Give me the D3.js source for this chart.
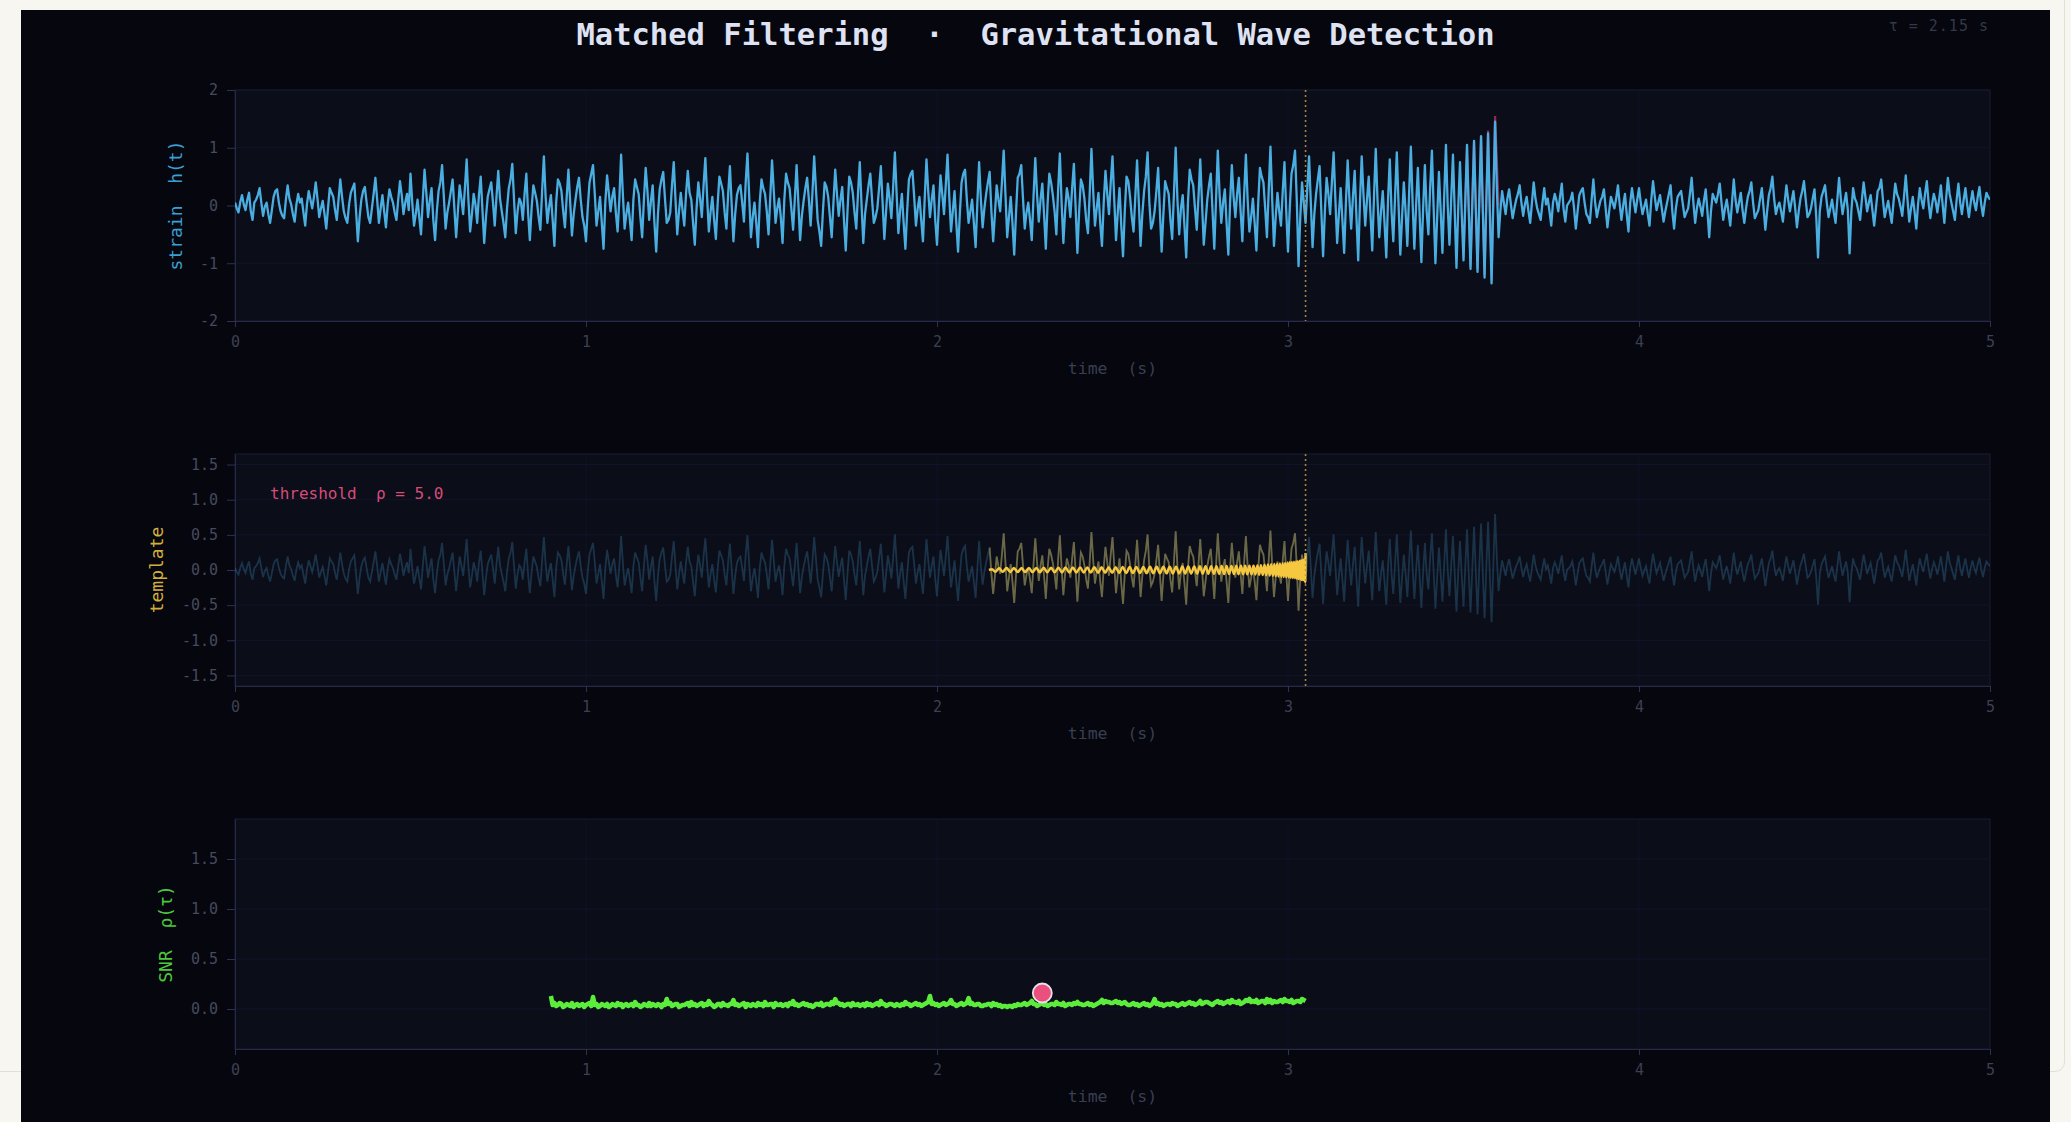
<!DOCTYPE html>
<html><head><meta charset="utf-8">
<script src="https://cdn.jsdelivr.net/npm/d3@7"></script>
<style>
html,body{margin:0;padding:0;background:#f7f6f1;width:2071px;height:1122px;overflow:hidden;}
#card{position:absolute;left:-20px;top:-20px;width:2085px;height:1092px;border:1px solid #e2dfd6;border-radius:10px;box-sizing:border-box;}
#chart{position:absolute;left:0;top:0;}
text{font-family:"DejaVu Sans Mono",monospace;}
</style></head><body>
<div id="card"></div>
<svg id="chart" width="2071" height="1122"></svg>
<script>
// ---------- DATA ----------
const xTicks = [0, 1, 2, 3, 4, 5];
const strainTicks = [-2, -1, 0, 1, 2];
const templateTicks = [-1.5, -1, -0.5, 0, 0.5, 1, 1.5];
const snrTicks = [0, 0.5, 1, 1.5];
const strainDt = 0.005;          // sample spacing of strain (s)
const tau = 2.15;                // template start (s)
const tauEnd = 3.05;             // template end / marker (s)
const thresholdRho = 5.0;
const snrStart = 0.90, snrDt = 0.005;
const snrPeak = [2.30, 0.16];

const strain = [
 0.05,-0.05,-0.12,0.06,0.18,0.02,-0.08,0.10,0.22,-0.10,-0.25,0.05,0.10,0.18,0.30,0.05,-0.18,-0.02,0.05,-0.15,
 -0.30,-0.08,0.15,0.25,0.28,0.05,-0.10,-0.18,-0.22,0.10,0.35,0.12,0.02,-0.15,-0.28,0.02,0.20,0.05,0.12,-0.12,
 -0.35,0.02,0.25,0.10,-0.05,0.15,0.40,0.12,-0.20,-0.05,0.08,-0.15,-0.40,-0.05,0.30,0.22,0.15,-0.08,-0.25,0.10,
 0.45,0.15,-0.10,-0.22,-0.30,0.02,0.22,0.30,0.38,-0.10,-0.62,-0.20,0.10,0.25,0.32,0.05,-0.20,-0.30,-0.05,0.20,
 0.48,0.10,-0.30,-0.05,0.18,-0.10,-0.38,0.02,0.28,0.15,0.05,-0.12,-0.25,0.10,0.42,0.18,-0.15,0.05,0.20,-0.08,
 0.55,0.05,-0.35,-0.15,0.10,-0.20,-0.50,0.10,0.62,0.22,-0.20,0.08,0.30,-0.25,-0.60,-0.10,0.25,0.40,0.70,0.15,
 -0.40,-0.12,0.05,0.25,0.45,-0.05,-0.55,-0.10,0.35,0.12,-0.15,0.30,0.80,0.10,-0.45,-0.15,0.20,0.02,-0.30,0.18,
 0.50,-0.08,-0.65,-0.20,0.15,0.28,0.40,0.05,-0.35,0.15,0.60,0.12,-0.10,-0.30,-0.55,-0.05,0.30,0.45,0.72,0.10,
 -0.48,-0.10,0.12,0.05,-0.25,0.20,0.55,-0.12,-0.60,-0.05,0.35,0.22,0.08,-0.20,-0.42,0.25,0.85,0.15,-0.30,-0.02,
 0.18,-0.25,-0.70,0.05,0.45,0.38,0.25,-0.10,-0.38,0.15,0.62,0.05,-0.52,-0.15,0.10,0.32,0.48,0.10,-0.20,-0.35,
 -0.62,-0.05,0.40,0.55,0.70,0.20,-0.35,-0.10,0.15,-0.30,-0.75,0.05,0.52,0.22,-0.10,0.15,0.30,-0.12,-0.45,0.10,
 0.88,0.20,-0.40,-0.15,0.05,-0.25,-0.60,0.10,0.45,0.32,0.20,-0.20,-0.55,0.10,0.65,0.25,-0.25,0.08,0.35,-0.30,
 -0.80,-0.15,0.28,0.45,0.58,0.12,-0.30,-0.25,-0.12,0.35,0.75,0.10,-0.50,-0.10,0.22,-0.08,-0.35,0.20,0.60,0.22,
 0.10,-0.30,-0.68,-0.05,0.40,0.12,-0.20,0.35,0.82,0.15,-0.45,-0.10,0.15,-0.25,-0.58,0.02,0.50,0.38,0.25,-0.12,
 -0.40,0.20,0.68,0.02,-0.62,-0.15,0.18,0.30,0.35,0.05,-0.28,0.40,0.90,0.15,-0.55,-0.20,0.05,-0.30,-0.72,0.05,
 0.45,0.30,0.20,-0.10,-0.50,0.15,0.78,0.25,-0.30,-0.05,0.12,-0.20,-0.65,0.10,0.55,0.40,0.30,-0.05,-0.42,0.12,
 0.70,0.05,-0.60,-0.18,0.08,0.30,0.48,0.10,-0.35,0.20,0.85,0.30,-0.25,-0.45,-0.70,-0.10,0.40,0.32,0.15,-0.20,
 -0.55,0.05,0.62,0.20,-0.18,0.10,0.32,-0.25,-0.78,-0.10,0.50,0.40,0.22,-0.12,-0.40,0.22,0.75,0.02,-0.65,-0.15,
 0.10,0.35,0.55,0.10,-0.30,-0.20,-0.05,0.30,0.68,0.05,-0.58,-0.10,0.38,0.12,-0.22,0.30,0.92,0.20,-0.48,-0.08,
 0.20,-0.30,-0.75,-0.10,0.45,0.55,0.60,0.15,-0.35,-0.05,0.15,-0.25,-0.62,0.12,0.80,0.25,-0.20,0.10,0.35,-0.25,
 -0.68,-0.05,0.52,0.20,-0.15,0.35,0.88,0.15,-0.45,-0.10,0.25,-0.30,-0.80,-0.15,0.40,0.55,0.62,0.10,-0.30,-0.10,
 0.10,-0.30,-0.72,0.05,0.75,0.10,-0.38,-0.05,0.20,0.40,0.58,-0.10,-0.62,-0.15,0.35,0.10,-0.10,0.40,0.95,0.20,
 -0.55,-0.20,0.15,-0.30,-0.85,-0.15,0.48,0.55,0.70,0.12,-0.40,-0.12,0.05,-0.25,-0.60,0.15,0.82,0.20,-0.28,0.10,
 0.38,-0.15,-0.75,0.02,0.55,0.40,0.18,-0.10,-0.50,0.25,0.90,0.05,-0.65,-0.10,0.30,0.12,-0.20,0.30,0.72,-0.05,
 -0.82,-0.10,0.45,0.35,0.12,-0.25,-0.48,0.20,0.98,0.25,-0.35,-0.05,0.22,-0.30,-0.70,0.05,0.60,0.20,-0.15,0.40,
 0.85,0.10,-0.60,-0.12,0.30,-0.35,-0.88,-0.10,0.50,0.42,0.15,-0.20,-0.45,0.15,0.78,0.05,-0.70,-0.15,0.25,0.50,
 0.92,0.05,-0.40,-0.30,-0.10,0.25,0.65,-0.10,-0.80,-0.15,0.42,0.30,0.20,-0.25,-0.58,0.20,1.00,0.10,-0.50,-0.05,
 0.18,-0.35,-0.90,0.05,0.62,0.45,0.35,-0.05,-0.42,0.15,0.80,0.05,-0.68,-0.30,0.10,0.35,0.55,-0.10,-0.75,0.10,
 0.95,0.20,-0.30,0.05,0.28,-0.30,-0.85,0.05,0.70,0.15,-0.20,0.20,0.48,-0.10,-0.62,0.18,0.88,0.10,-0.45,-0.20,
 0.12,-0.30,-0.78,0.02,0.65,0.50,0.40,-0.05,-0.55,0.25,1.02,0.10,-0.70,-0.20,0.22,-0.10,-0.35,0.25,0.75,-0.10,
 -0.80,-0.05,0.55,0.70,0.95,0.10,-1.05,-0.20,0.40,0.05,-0.30,0.30,0.85,0.05,-0.72,-0.15,0.20,0.45,0.68,-0.10,
 -0.88,-0.10,0.48,0.20,-0.15,0.40,0.92,0.10,-0.65,-0.15,0.30,-0.25,-0.82,0.05,0.78,0.10,-0.40,0.15,0.60,-0.20,
 -0.95,0.05,0.85,0.20,-0.35,0.10,0.50,-0.15,-0.78,0.15,0.98,0.10,-0.55,-0.10,0.25,-0.30,-0.90,0.10,0.80,-0.10,
 -0.62,0.15,0.92,0.02,-0.85,-0.20,0.40,-0.10,-0.70,0.20,1.02,0.05,-0.75,0.00,0.65,-0.15,-0.98,-0.05,0.70,-0.10,
 -0.50,0.30,0.95,-0.05,-1.00,-0.20,0.58,-0.10,-0.82,0.15,1.05,0.00,-0.68,0.12,0.88,-0.10,-1.08,-0.05,0.75,-0.15,
 -0.95,0.05,1.05,-0.10,-1.10,0.02,1.12,-0.05,-1.15,0.10,1.20,-0.08,-1.25,0.05,1.25,-0.12,-1.35,0.10,1.45,0.30,
 -0.55,-0.10,0.25,0.05,-0.15,0.12,0.28,0.02,-0.22,-0.05,0.10,0.20,0.35,0.05,-0.18,0.02,0.15,-0.10,-0.30,0.05,
 0.40,0.12,-0.05,-0.15,-0.25,0.05,0.30,0.02,0.12,-0.10,-0.35,0.05,0.20,0.08,-0.10,0.15,0.38,-0.05,-0.28,0.00,
 0.05,0.10,0.22,-0.05,-0.40,-0.10,0.18,0.25,0.30,0.05,-0.15,-0.20,-0.30,0.10,0.45,0.05,-0.20,-0.05,0.08,0.15,
 0.28,-0.05,-0.38,-0.10,0.15,0.05,-0.05,0.12,0.35,0.02,-0.25,0.00,0.20,-0.15,-0.45,0.05,0.30,0.08,-0.12,0.10,
 0.30,0.05,-0.15,-0.02,0.10,-0.15,-0.35,0.10,0.42,0.15,-0.08,0.05,0.18,-0.05,-0.28,-0.10,0.05,0.20,0.35,-0.10,
 -0.40,-0.05,0.15,0.20,0.25,0.02,-0.20,-0.12,-0.05,0.20,0.48,0.05,-0.30,-0.05,0.12,-0.02,-0.18,0.08,0.28,-0.10,
 -0.55,-0.10,0.20,0.12,0.05,0.20,0.38,0.05,-0.25,-0.05,0.10,-0.12,-0.35,0.05,0.45,0.10,-0.12,0.05,0.22,-0.08,
 -0.30,-0.05,0.15,0.25,0.40,0.05,-0.22,-0.15,-0.08,0.12,0.30,-0.05,-0.42,-0.10,0.18,0.30,0.50,0.12,-0.15,-0.02,
 0.05,-0.10,-0.28,0.05,0.35,0.10,-0.10,0.08,0.25,-0.05,-0.38,-0.10,0.12,0.25,0.42,0.10,-0.20,-0.15,-0.05,0.12,
 0.28,-0.20,-0.90,-0.10,0.15,0.25,0.35,0.05,-0.20,-0.05,0.10,-0.12,-0.30,0.10,0.48,0.12,-0.15,0.05,0.22,-0.08,
 -0.83,-0.10,0.30,0.12,0.05,-0.10,-0.25,0.10,0.40,0.15,-0.10,0.05,0.18,-0.08,-0.35,-0.05,0.25,0.30,0.45,0.10,
 -0.20,-0.05,0.08,-0.12,-0.30,0.05,0.38,0.20,0.12,-0.02,-0.18,0.15,0.52,0.10,-0.28,-0.05,0.15,-0.10,-0.40,0.02,
 0.30,0.10,-0.05,0.20,0.42,0.05,-0.22,0.02,0.20,0.08,-0.12,0.10,0.35,0.02,-0.30,0.12,0.48,0.20,0.05,-0.10,
 -0.25,0.10,0.38,0.05,-0.15,0.10,0.30,0.02,-0.20,0.05,0.25,0.05,-0.08,0.15,0.32,0.02,-0.18,0.05,0.22,0.15,
 0.10
];

// injected signal near merger (dark red, mostly hidden under strain)
const mergerSignal = [
 [3.500,-0.90],[3.510,1.00],[3.520,-1.05],[3.530,1.10],[3.540,-1.10],[3.550,1.20],
 [3.560,-1.20],[3.570,1.30],[3.580,-1.30],[3.590,1.55],[3.600,0.00]
];

// template extrema [time, value]
const template = [
 [2.148,0],[2.157,0.010],[2.166,-0.025],[2.177,0.026],[2.187,-0.026],[2.198,0.027],[2.209,-0.027],
 [2.219,0.028],[2.230,-0.028],[2.241,0.028],[2.251,-0.029],[2.262,0.029],[2.272,-0.030],[2.283,0.030],
 [2.293,-0.031],[2.304,0.031],[2.314,-0.032],[2.325,0.032],[2.335,-0.033],[2.346,0.033],[2.356,-0.034],
 [2.366,0.034],[2.377,-0.035],[2.387,0.035],[2.397,-0.035],[2.408,0.036],[2.418,-0.036],[2.428,0.037],
 [2.438,-0.037],[2.448,0.038],[2.459,-0.038],[2.469,0.039],[2.479,-0.039],[2.489,0.040],[2.499,-0.040],
 [2.509,0.040],[2.519,-0.041],[2.529,0.041],[2.539,-0.042],[2.549,0.042],[2.558,-0.043],[2.568,0.043],
 [2.578,-0.043],[2.588,0.044],[2.597,-0.044],[2.607,0.045],[2.616,-0.045],[2.626,0.045],
 [2.635,-0.046],[2.645,0.046],[2.654,-0.047],[2.663,0.047],[2.672,-0.048],[2.681,0.048],[2.690,-0.049],
 [2.699,0.049],[2.707,-0.050],[2.716,0.050],[2.724,-0.051],[2.733,0.051],[2.741,-0.052],[2.749,0.052],
 [2.757,-0.053],[2.765,0.053],[2.773,-0.054],[2.781,0.054],[2.789,-0.055],[2.796,0.055],[2.804,-0.056],
 [2.811,0.056],[2.818,-0.057],[2.825,0.057],[2.832,-0.058],[2.839,0.058],[2.846,-0.058],[2.853,0.059],
 [2.859,-0.059],[2.866,0.059],[2.872,-0.060],[2.878,0.060],[2.884,-0.060],[2.890,0.061],[2.896,-0.061],
 [2.902,0.062],
 [2.907,-0.063],[2.913,0.065],[2.918,-0.067],[2.923,0.069],[2.928,-0.071],[2.933,0.073],[2.938,-0.075],
 [2.943,0.077],[2.948,-0.079],[2.952,0.081],[2.957,-0.083],[2.961,0.085],[2.965,-0.087],[2.969,0.089],
 [2.973,-0.091],[2.977,0.093],[2.981,-0.095],[2.985,0.097],[2.988,-0.099],[2.992,0.101],[2.995,-0.103],
 [2.999,0.105],[3.002,-0.107],[3.005,0.109],[3.008,-0.111],[3.011,0.113],[3.014,-0.115],[3.017,0.117],
 [3.020,-0.119],[3.023,0.121],[3.025,-0.123],[3.028,0.126],[3.030,-0.129],[3.033,0.132],[3.035,-0.135],
 [3.037,0.138],[3.039,-0.141],[3.041,0.144],[3.043,-0.147],[3.045,0.150],[3.047,-0.155],[3.048,0.165],
 [3.049,-0.180],[3.050,0.240]
];

const snr = [
 0.13,0.04,0.06,0.03,0.04,0.06,0.05,0.02,0.03,0.05,0.04,0.03,0.06,0.02,0.04,0.05,0.03,0.04,0.05,0.02,
 0.04,0.05,0.06,0.03,0.12,0.04,0.05,0.02,0.03,0.05,0.04,0.03,0.05,0.02,0.03,0.05,0.04,0.03,0.06,0.04,
 0.05,0.02,0.04,0.05,0.03,0.04,0.05,0.03,0.07,0.04,0.04,0.02,0.03,0.05,0.04,0.03,0.06,0.03,0.05,0.04,
 0.03,0.05,0.04,0.02,0.05,0.04,0.10,0.05,0.06,0.03,0.04,0.05,0.05,0.02,0.03,0.04,0.04,0.05,0.06,0.03,
 0.07,0.04,0.05,0.03,0.04,0.05,0.06,0.03,0.05,0.04,0.08,0.05,0.04,0.02,0.03,0.05,0.05,0.03,0.06,0.04,
 0.04,0.03,0.05,0.05,0.09,0.04,0.05,0.03,0.04,0.05,0.06,0.02,0.05,0.04,0.03,0.05,0.04,0.03,0.06,0.04,
 0.05,0.03,0.07,0.04,0.04,0.05,0.05,0.02,0.06,0.04,0.04,0.05,0.03,0.04,0.05,0.03,0.06,0.05,0.08,0.04,
 0.05,0.03,0.04,0.05,0.06,0.04,0.05,0.03,0.04,0.02,0.03,0.05,0.05,0.04,0.06,0.03,0.04,0.05,0.05,0.04,
 0.07,0.05,0.10,0.06,0.06,0.04,0.05,0.03,0.04,0.05,0.05,0.03,0.06,0.04,0.04,0.05,0.03,0.04,0.05,0.03,
 0.06,0.04,0.05,0.03,0.04,0.05,0.06,0.04,0.08,0.05,0.05,0.03,0.04,0.05,0.05,0.04,0.03,0.05,0.04,0.03,
 0.05,0.04,0.07,0.05,0.05,0.03,0.04,0.05,0.06,0.04,0.05,0.03,0.04,0.05,0.06,0.07,0.13,0.05,0.06,0.04,
 0.05,0.03,0.04,0.05,0.06,0.04,0.05,0.06,0.09,0.05,0.05,0.03,0.04,0.05,0.06,0.04,0.05,0.06,0.11,0.05,
 0.06,0.04,0.04,0.05,0.05,0.03,0.03,0.04,0.04,0.05,0.05,0.03,0.06,0.04,0.05,0.03,0.04,0.02,0.03,0.03,
 0.02,0.03,0.03,0.02,0.04,0.03,0.05,0.04,0.04,0.05,0.06,0.04,0.05,0.06,0.08,0.05,0.05,0.03,0.04,0.05,
 0.06,0.04,0.05,0.03,0.04,0.05,0.05,0.04,0.07,0.05,0.05,0.04,0.06,0.03,0.04,0.05,0.05,0.04,0.06,0.05,
 0.07,0.05,0.05,0.04,0.04,0.05,0.06,0.04,0.05,0.03,0.04,0.05,0.06,0.07,0.09,0.06,0.08,0.07,0.07,0.06,
 0.06,0.07,0.08,0.06,0.07,0.05,0.06,0.07,0.05,0.04,0.04,0.05,0.06,0.04,0.05,0.03,0.04,0.05,0.06,0.04,
 0.05,0.03,0.04,0.06,0.10,0.05,0.06,0.04,0.05,0.03,0.04,0.05,0.05,0.04,0.06,0.05,0.05,0.03,0.04,0.05,
 0.06,0.04,0.05,0.06,0.07,0.05,0.06,0.04,0.05,0.06,0.08,0.05,0.06,0.07,0.07,0.06,0.05,0.04,0.06,0.07,
 0.08,0.06,0.07,0.05,0.06,0.07,0.08,0.06,0.09,0.07,0.07,0.06,0.08,0.05,0.06,0.07,0.09,0.08,0.10,0.07,
 0.08,0.07,0.09,0.06,0.07,0.08,0.08,0.06,0.10,0.07,0.09,0.06,0.08,0.07,0.07,0.08,0.09,0.07,0.10,0.08,
 0.08,0.07,0.09,0.06,0.07,0.08,0.08,0.07,0.10,0.09,0.08
];

// ---------- DRAWING ----------
const X0 = 235, X1 = 1990;
const FONT = '"DejaVu Sans Mono", monospace';
const x = d3.scaleLinear().domain([0, 5]).range([X0, X1]);
const svg = d3.select('#chart');
const defs = svg.append('defs');

svg.append('rect').attr('x', 21).attr('y', 10).attr('width', 2029).attr('height', 1112).attr('fill', '#05060e');

svg.append('text').attr('x', 1035.5).attr('y', 44.5).attr('text-anchor', 'middle')
  .style('white-space', 'pre').attr('font-size', 30.5).attr('font-weight', 'bold').attr('fill', '#dfe2f2')
  .text('Matched Filtering  \u00b7  Gravitational Wave Detection');

svg.append('text').attr('x', 1989).attr('y', 31).attr('text-anchor', 'end')
  .style('white-space', 'pre').attr('font-size', 15).attr('letter-spacing', 1).attr('fill', '#34384a')
  .text('\u03c4 = ' + tau.toFixed(2) + ' s');

function makePanel(id, top, bot, domain, ticks, fmt, label, color, lx) {
  const y = d3.scaleLinear().domain(domain).range([bot, top]);
  const g = svg.append('g');
  g.append('rect').attr('x', X0).attr('y', top).attr('width', X1 - X0).attr('height', bot - top)
    .attr('fill', '#0b0d19').attr('stroke', '#1a1d35');
  g.append('g').selectAll('line').data(ticks).join('line')
    .attr('x1', X0).attr('x2', X1).attr('y1', d => y(d)).attr('y2', d => y(d))
    .attr('stroke', '#12152a').attr('stroke-width', 1);
  g.append('g').selectAll('line').data(xTicks.slice(1, -1)).join('line')
    .attr('x1', d => x(d)).attr('x2', d => x(d)).attr('y1', top).attr('y2', bot)
    .attr('stroke', '#10132a').attr('stroke-width', 1);
  defs.append('clipPath').attr('id', 'clip' + id).append('rect')
    .attr('x', X0).attr('y', top).attr('width', X1 - X0).attr('height', bot - top);

  const ya = g.append('g').attr('transform', `translate(${X0},0)`)
    .call(d3.axisLeft(y).tickValues(ticks).tickFormat(fmt).tickSize(8).tickPadding(9).tickSizeOuter(0));
  const xa = g.append('g').attr('transform', `translate(0,${bot})`)
    .call(d3.axisBottom(x).tickValues(xTicks).tickFormat(d => String(d)).tickSize(6).tickPadding(9).tickSizeOuter(0));
  [ya, xa].forEach(a => {
    a.select('.domain').attr('stroke', '#262a46');
    a.selectAll('.tick line').attr('stroke', '#2e3250');
    a.selectAll('.tick text').attr('fill', '#464a5c').attr('font-size', 15).attr('font-family', FONT);
  });
  xa.selectAll('.tick text').attr('fill', '#3c4052');

  g.append('text').attr('x', (X0 + X1) / 2).attr('y', bot + 53).attr('text-anchor', 'middle')
    .style('white-space', 'pre').attr('font-size', 16.5).attr('fill', '#3a3e50').text('time  (s)');
  g.append('text').attr('transform', `translate(${lx},${(top + bot) / 2}) rotate(-90)`)
    .attr('text-anchor', 'middle').attr('dy', '0.35em').style('white-space', 'pre')
    .attr('font-size', 18).attr('fill', color).text(label);
  const plot = g.append('g').attr('clip-path', `url(#clip${id})`);
  return { y, g, plot, top, bot };
}

const fmtInt = d => String(d);
const fmt1 = d => d.toFixed(1);

const p1 = makePanel(1, 90, 321, [-2, 2], strainTicks, fmtInt, 'strain  h(t)', '#3a9fd2', 176);
const p2 = makePanel(2, 454, 686, [-1.65, 1.65], templateTicks, fmt1, 'template', '#d4ae3c', 157);
const p3 = makePanel(3, 819, 1049, [-0.4, 1.9], snrTicks, fmt1, 'SNR  \u03c1(\u03c4)', '#4cc83a', 166);

const strainPts = strain.map((v, i) => [i * strainDt, v]);

// Panel 1: strain
p1.plot.append('path').datum(mergerSignal)
  .attr('d', d3.line().x(d => x(d[0])).y(d => p1.y(d[1])))
  .attr('fill', 'none').attr('stroke', '#8e2a52').attr('stroke-width', 2.2);
p1.plot.append('path').datum(strainPts)
  .attr('d', d3.line().x(d => x(d[0])).y(d => p1.y(d[1])))
  .attr('fill', 'none').attr('stroke', '#4aaee0').attr('stroke-width', 2.3).attr('stroke-linejoin', 'round');

// Panel 2: faint strain + template
const yFaint = d3.scaleLinear().domain([-3.0, 3.0]).range([p2.bot, p2.top]);
const faintLine = d3.line().x(d => x(d[0])).y(d => yFaint(d[1]));
p2.plot.append('path').datum(strainPts).attr('d', faintLine)
  .attr('fill', 'none').attr('stroke', '#4aaee0').attr('stroke-opacity', 0.24).attr('stroke-width', 1.8);
p2.plot.append('path').datum(strainPts.filter(d => d[0] >= tau - 0.001 && d[0] <= tauEnd + 0.001)).attr('d', faintLine)
  .attr('fill', 'none').attr('stroke', '#e8b840').attr('stroke-opacity', 0.4).attr('stroke-width', 1.8);
p2.plot.append('path').datum(template)
  .attr('d', d3.line().x(d => x(d[0])).y(d => p2.y(d[1])).curve(d3.curveMonotoneX))
  .attr('fill', 'none').attr('stroke', '#f6c840').attr('stroke-width', 2.5).attr('stroke-linejoin', 'round');

p2.g.append('text').attr('x', 270).attr('y', 499).style('white-space', 'pre')
  .attr('font-size', 16).attr('fill', '#d64c78').text('threshold  \u03c1 = ' + thresholdRho.toFixed(1));

// dotted marker at template end
[p1, p2].forEach(p => {
  p.g.append('line').attr('x1', x(tauEnd)).attr('x2', x(tauEnd)).attr('y1', p.top).attr('y2', p.bot)
    .attr('stroke', '#c49545').attr('stroke-width', 1.6).attr('stroke-dasharray', '2,3').attr('opacity', 0.85);
});

// Panel 3: SNR
const snrPts = snr.map((v, i) => [snrStart + i * snrDt, v]);
p3.plot.append('path').datum(snrPts)
  .attr('d', d3.line().x(d => x(d[0])).y(d => p3.y(d[1])))
  .attr('fill', 'none').attr('stroke', '#5cec3c').attr('stroke-width', 4.5).attr('stroke-linejoin', 'round');
p3.plot.append('circle').attr('cx', x(snrPeak[0])).attr('cy', p3.y(snrPeak[1])).attr('r', 9.5)
  .attr('fill', '#ea4f7e').attr('stroke', '#e6e2ea').attr('stroke-width', 1.8);
</script>
</body></html>
